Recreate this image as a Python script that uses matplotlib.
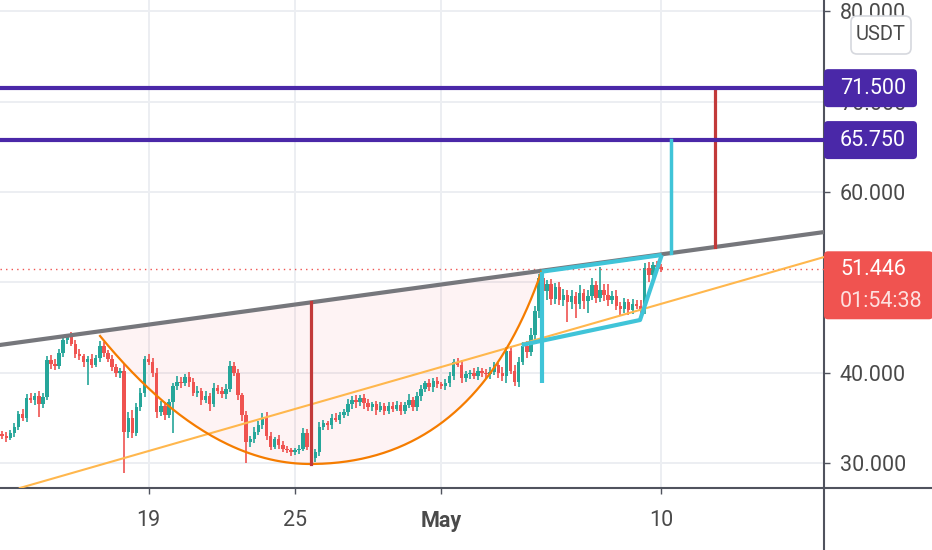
import numpy as np
import matplotlib
matplotlib.use('Agg')
import matplotlib.pyplot as plt
from matplotlib.patches import FancyBboxPatch
from matplotlib.transforms import IdentityTransform
from matplotlib.lines import Line2D

plt.rcParams['font.family'] = ['Roboto', 'DejaVu Sans']

# 4h candles from Apr 13 00:00 to May 10 00:00 (x = day of April, May 1 = 31)
first_day = 13
first_open = 33.2
closes = [
    33.0, 32.8, 33.3, 34.0, 35.4, 35.0,   # Apr 13
    37.2, 37.0, 37.4, 36.5, 37.3, 41.4,   # Apr 14
    41.0, 40.7, 42.2, 43.6, 44.0, 43.2,   # Apr 15
    42.1, 41.8, 41.2, 41.5, 40.9, 41.6,   # Apr 16
    43.0, 42.2, 41.5, 40.6, 40.0, 40.2,   # Apr 17
    33.4, 35.0, 33.3, 36.2, 37.8, 41.5,   # Apr 18
    41.2, 40.0, 35.6, 36.3, 35.3, 36.8,   # Apr 19
    38.5, 39.0, 38.8, 39.5, 39.0, 37.8,   # Apr 20
    38.0, 37.0, 37.4, 36.5, 38.3, 38.0,   # Apr 21
    37.6, 38.2, 40.7, 40.0, 37.5, 35.3,   # Apr 22
    32.3, 32.6, 33.4, 34.2, 35.0, 33.0,   # Apr 23
    31.8, 32.6, 32.0, 31.6, 31.4, 31.2,   # Apr 24
    31.4, 31.6, 33.3, 31.8, 30.6, 31.2,   # Apr 25
    34.0, 34.4, 34.2, 35.0, 34.8, 35.3,   # Apr 26
    35.6, 36.5, 37.0, 36.7, 37.2, 36.6,   # Apr 27
    36.2, 36.5, 35.9, 36.3, 35.8, 36.3,   # Apr 28
    36.0, 36.4, 35.8, 36.4, 37.0, 36.2,   # Apr 29
    37.4, 38.2, 38.8, 38.4, 39.1, 38.7,   # Apr 30
    38.5, 38.9, 39.6, 41.2, 40.9, 39.4,   # May 1
    39.8, 40.0, 39.6, 40.2, 40.0, 39.8,   # May 2
    40.1, 40.8, 40.0, 39.6, 42.4, 40.2,   # May 3
    39.0, 41.2, 43.0, 42.3, 44.2, 46.8,   # May 4
    50.5, 49.0, 49.8, 48.2, 49.5, 48.0,   # May 5
    48.6, 47.8, 48.5, 47.6, 48.8, 47.9,   # May 6
    48.5, 49.7, 48.3, 49.2, 48.6, 48.0,   # May 7
    48.5, 47.4, 47.0, 47.8, 46.9, 47.6,   # May 8
    47.4, 47.0, 51.6, 50.8, 51.9, 51.7,   # May 9
    51.446,                               # May 10
]
up_wick = [
    0.3, 0.4, 0.3, 0.4, 0.3, 0.6,
    0.4, 0.5, 0.3, 0.6, 0.4, 0.5,
    0.6, 0.5, 0.4, 0.6, 0.3, 0.5,
    0.4, 0.5, 0.3, 0.4, 0.6, 0.4,
    0.5, 0.4, 0.3, 0.5, 0.4, 0.3,
    0.8, 0.6, 0.9, 0.4, 0.5, 0.4,
    0.6, 0.4, 0.5, 0.6, 0.4, 0.3,
    0.4, 0.6, 0.5, 0.4, 0.6, 0.4,
    0.5, 0.3, 0.6, 0.4, 0.5, 0.3,
    0.4, 0.5, 0.6, 0.5, 0.4, 0.3,
    0.5, 0.4, 0.6, 0.4, 0.5, 0.6,
    0.4, 0.3, 0.5, 0.4, 0.3, 0.3,
    0.3, 0.4, 0.6, 0.5, 0.4, 0.3,
    0.5, 0.4, 0.3, 0.4, 0.5, 0.3,
    0.4, 0.6, 0.4, 0.5, 0.3, 0.4,
    0.5, 0.3, 0.4, 0.5, 0.3, 0.4,
    0.4, 0.5, 0.3, 0.4, 0.6, 0.3,
    0.5, 0.4, 0.3, 0.5, 0.3, 0.4,
    0.3, 0.4, 0.5, 0.3, 0.4, 0.5,
    0.4, 0.3, 0.5, 0.4, 0.3, 0.4,
    0.5, 0.4, 0.3, 0.6, 0.4, 0.5,
    0.6, 0.5, 0.4, 0.5, 0.7, 0.6,
    0.4, 0.8, 0.5, 0.6, 0.4, 0.5,
    0.7, 0.5, 0.6, 0.4, 0.9, 0.5,
    0.6, 0.8, 0.5, 2.5, 0.6, 1.2,
    0.5, 0.6, 0.4, 0.5, 0.4, 0.6,
    0.5, 0.6, 0.5, 0.6, 0.4, 0.5,
    0.3,
]
dn_wick = [
    0.4, 0.5, 0.3, 0.4, 0.3, 0.4,
    0.5, 0.4, 0.6, 1.4, 0.4, 0.3,
    0.6, 0.4, 0.3, 0.5, 0.4, 0.3,
    0.5, 0.4, 0.6, 2.6, 0.4, 0.3,
    0.4, 0.5, 0.3, 0.4, 0.5, 0.6,
    4.5, 0.6, 0.5, 0.3, 0.4, 0.5,
    0.4, 0.5, 0.6, 0.4, 0.5, 0.3,
    3.5, 0.4, 0.5, 0.3, 0.6, 0.4,
    0.5, 0.6, 0.4, 0.7, 0.3, 0.4,
    0.4, 0.5, 0.3, 0.4, 0.5, 0.6,
    2.3, 0.5, 0.4, 0.3, 0.4, 0.5,
    0.4, 0.3, 0.5, 0.4, 0.3, 0.4,
    0.3, 0.4, 0.3, 0.4, 0.6, 0.5,
    0.4, 0.3, 0.5, 0.4, 0.3, 0.5,
    0.3, 0.4, 0.5, 0.6, 0.4, 0.6,
    0.5, 0.4, 0.6, 0.3, 0.5, 0.4,
    0.4, 0.3, 0.5, 0.4, 0.3, 0.5,
    0.4, 0.5, 0.3, 0.4, 0.5, 0.4,
    0.3, 0.4, 0.5, 0.4, 0.3, 0.5,
    0.4, 0.5, 0.3, 0.4, 0.5, 0.4,
    0.5, 0.4, 0.6, 0.5, 0.7, 0.4,
    0.5, 0.6, 0.4, 0.7, 0.5, 0.6,
    0.8, 0.6, 0.9, 0.7, 0.6, 0.5,
    0.6, 2.2, 0.7, 1.6, 0.5, 0.8,
    1.3, 0.5, 0.6, 0.5, 0.7, 0.6,
    0.4, 0.5, 0.6, 0.4, 0.5, 0.4,
    0.3, 0.4, 0.5, 0.8, 0.6, 0.5,
    0.3,
]
last_price = 51.446
countdown = '01:54:38'
currency = 'USDT'

x_ticks = [19, 25, 31, 40]
x_labels = ['19', '25', 'May', '10']
y_ticks = [30, 40, 50, 60, 70, 80]
# 50.000 sits under the last-price tag, so it is not shown
y_labels = ['30.000', '40.000', '', '60.000', '70.000', '80.000']

# drawings, in (day, price)
resistance = [(17.0, 44.58), (35.1, 51.28)]
support = [(25.62, 36.46), (39.0, 46.84)]
cup_left = [(17.01, 44.06), (21.31, 29.89), (25.62, 29.89)]
cup_right = [(25.62, 29.89), (32.38, 29.89), (35.1, 51.2)]
cup_depth_day = 25.66
cup_bottom = 29.89
target_day = 42.21
targets = [71.5, 65.75]
flag_upper = [(35.11, 51.18), (40.03, 53.03)]
flag_lower = [(34.29, 43.06), (39.14, 45.83), (40.03, 53.03)]
flag_pole = [(35.11, 38.86), (35.11, 51.18)]
flag_target_day = 40.41

GREEN = '#26a69a'
RED = '#ef5350'
PURPLE = '#4a28a8'
CYAN = '#40c4d8'
TEXT = '#4a4a4a'
AXIS = '#50535e'
FS = 15.5

closes = np.array(closes)
opens = np.concatenate([[first_open], closes[:-1]])
t = first_day + np.arange(len(closes)) / 6
highs = np.maximum(opens, closes) + np.array(up_wick)
lows = np.minimum(opens, closes) - np.array(dn_wick)
cols = [GREEN if c >= o else RED for o, c in zip(opens, closes)]


def quad(pts, n=80):
    p0, p1, p2 = [np.array(p) for p in pts]
    s = np.linspace(0, 1, n)[:, None]
    return (1 - s) ** 2 * p0 + 2 * s * (1 - s) * p1 + s ** 2 * p2


def line_at(pts, x):
    (x1, y1), (x2, y2) = pts
    return y1 + (y2 - y1) * (x - x1) / (x2 - x1)


fig = plt.figure(figsize=(9.32, 5.5), dpi=100)
ax = fig.add_axes([0, 62 / 550, 824 / 932, 488 / 550])
ax.set_xlim(12.91, 46.68)
ax.set_ylim(27.23, 81.26)

# cup shading
cup = np.vstack([quad(cup_left), quad(cup_right)[1:]])
top = line_at(resistance, cup[::-1, 0])
ax.fill(np.concatenate([cup[:, 0], cup[::-1, 0]]), np.concatenate([cup[:, 1], top]),
        color='#f23645', alpha=0.06, lw=0, zorder=1)

# candles
ax.vlines(t, lows, highs, colors=cols, lw=1.2, zorder=3)
body = np.maximum(np.abs(closes - opens), 0.08)
ax.bar(t, body, bottom=np.minimum(opens, closes), width=0.14, color=cols, zorder=3)

# trend lines
ax.axline(*resistance, color='#76777c', lw=3, zorder=5)
ax.axline(*support, color='#ffb74d', lw=1.5, zorder=5)
ax.plot(cup[:, 0], cup[:, 1], color='#f57c00', lw=1.6, zorder=5)

# measured moves
ax.plot([cup_depth_day] * 2, [cup_bottom, line_at(resistance, cup_depth_day)],
        color='#c23a3a', lw=2.3, zorder=5)
ax.plot([target_day] * 2, [line_at(resistance, target_day), targets[0]],
        color='#c23a3a', lw=2.3, zorder=5)
for y in targets:
    ax.axhline(y, color=PURPLE, lw=3, zorder=5)

# flag
for pts in [flag_upper, flag_lower, flag_pole]:
    xs, ys = zip(*pts)
    ax.plot(xs, ys, color=CYAN, lw=3, zorder=6, solid_capstyle='butt')
ax.plot([flag_target_day] * 2, [line_at(resistance, flag_target_day), targets[1]],
        color=CYAN, lw=2.5, zorder=6)

ax.axhline(last_price, color='#f05350', lw=1, ls=(0, (1, 3)), zorder=4)

# axes styling
ax.grid(color='#eceef2', lw=1.4, zorder=0)
ax.set_axisbelow(True)
for s in ['top', 'left']:
    ax.spines[s].set_visible(False)
for s in ['bottom', 'right']:
    ax.spines[s].set_color(AXIS)
    ax.spines[s].set_linewidth(1.5)
ax.yaxis.tick_right()
ax.set_yticks(y_ticks)
ax.set_yticklabels(y_labels)
ax.set_xticks(x_ticks)
ax.set_xticklabels(x_labels)
ax.get_xticklabels()[2].set_fontweight('bold')
ax.tick_params(axis='y', length=4.5, width=1, color=AXIS, pad=7, labelsize=FS, labelcolor=TEXT)
ax.tick_params(axis='x', length=4.5, width=1, color=AXIS, pad=11, labelsize=FS, labelcolor=TEXT)

# spines continue through the price scale
fig.add_artist(Line2D([824 / 932, 1], [62 / 550] * 2, color=AXIS, lw=1.5))
fig.add_artist(Line2D([824 / 932] * 2, [0, 62 / 550], color=AXIS, lw=1.5))

px = IdentityTransform()


def ypix(v):
    return ax.transData.transform((0, v))[1]


for v in targets:
    y = ypix(v)
    fig.add_artist(FancyBboxPatch((824, y - 19), 93, 38, boxstyle='round,pad=0,rounding_size=4',
                                  transform=px, fc=PURPLE, ec='none', zorder=10))
    fig.text(840, y, '%.3f' % v, transform=px, color='white', fontsize=FS, va='center', zorder=11)

y = ypix(last_price)
fig.add_artist(FancyBboxPatch((824, y - 50), 109, 68, boxstyle='round,pad=0,rounding_size=4',
                              transform=px, fc='#f05350', ec='none', zorder=10))
fig.text(840, y, '%.3f' % last_price, transform=px, color='white', fontsize=FS, va='center', zorder=11)
fig.text(840, y - 32, countdown, transform=px, color='#fde0df', fontsize=FS, va='center', zorder=11)

fig.add_artist(FancyBboxPatch((851, 550 - 54), 60, 38, boxstyle='round,pad=0,rounding_size=6',
                              transform=px, fc='white', ec='#d6d8de', lw=1.2, zorder=10))
fig.text(881, 550 - 35, currency, transform=px, color=TEXT, fontsize=FS - 1, ha='center', va='center', zorder=11)

fig.savefig('out.png', dpi=100, facecolor='white')
